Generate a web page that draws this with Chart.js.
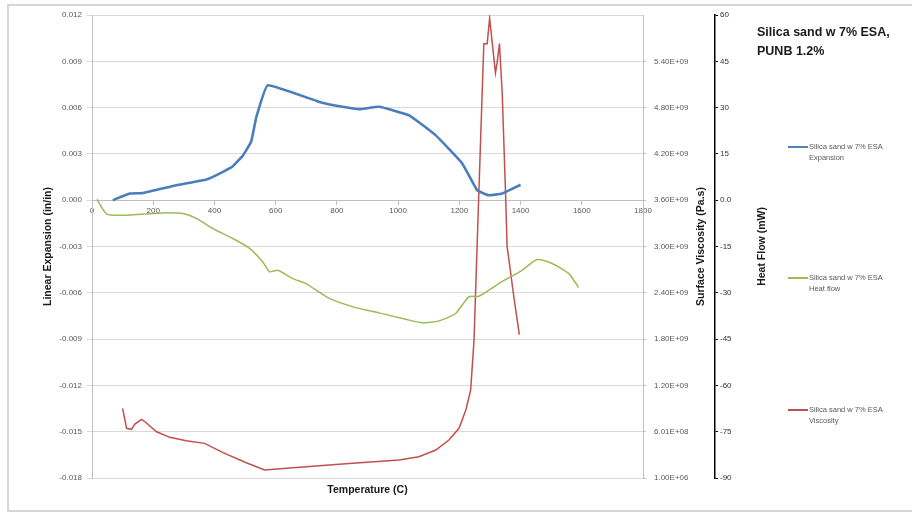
<!DOCTYPE html>
<html>
<head>
<meta charset="utf-8">
<script src="https://cdn.jsdelivr.net/npm/chart.js@4.4.1/dist/chart.umd.min.js"></script>
<style>
  html, body { margin: 0; padding: 0; background: #fff; }
  #wrap { position: relative; width: 912px; height: 513px; overflow: hidden; font-family: 'Liberation Sans', Arial, sans-serif; }
  #frame { position: absolute; left: 7px; top: 4px; width: 960px; height: 508px; border: 2px solid #d6d6d6; box-sizing: border-box; }
  canvas { position: absolute; left: 0; top: 0; }
  .title { position: absolute; left: 757px; top: 23px; font-weight: bold; font-size: 12.5px; line-height: 19px; color: #1a1a1a; }
  .leg { position: absolute; left: 788px; font-size: 7.5px; line-height: 11px; color: #595959; }
  .leg i { position: absolute; left: 0; top: 5px; width: 20px; height: 2px; }
  .leg span { display: block; margin-left: 21px; }
</style>
</head>
<body>
<div id="wrap">
  <div id="frame"></div>
  <canvas id="chart" width="912" height="513"></canvas>
  <div class="title">Silica sand w 7% ESA,<br>PUNB 1.2%</div>
  <div class="leg" style="top:141px"><i style="background:#4F81BD"></i><span>Silica sand w 7% ESA<br>Expansion</span></div>
  <div class="leg" style="top:272px"><i style="background:#9BBB59"></i><span>Silica sand w 7% ESA<br>Heat flow</span></div>
  <div class="leg" style="top:404px"><i style="background:#C0504D"></i><span>Silica sand w 7% ESA<br>Viscosity</span></div>
</div>
<script>
// ── Data ─────────────────────────────────────────────────────────────────
const expTemp = [68, 124, 167, 276, 374, 428, 460, 493, 520, 537, 574, 743, 819, 873, 938, 1036, 1123, 1209, 1258, 1296, 1340, 1400];
const expVal  = [0.0000, 0.00043, 0.00047, 0.00097, 0.00134, 0.00184, 0.0022, 0.0029, 0.0038, 0.0054, 0.00745,
                 0.00637, 0.00605, 0.0059, 0.00605, 0.0055, 0.0042, 0.0024, 0.00065, 0.00032, 0.00043, 0.001];

const heatTemp = [16, 48, 102, 200, 243, 297, 341, 395, 460, 515, 558, 580, 607, 656, 699, 775, 862, 938,
                  1025, 1079, 1134, 1188, 1231, 1264, 1329, 1405, 1454, 1503, 1557, 1590];
const heatVal  = [0.3, -4.5, -4.9, -4.3, -4.1, -4.3, -5.9, -9.2, -12.4, -15.6, -20, -23.2, -22.7, -25.4, -27,
                  -31.8, -34.8, -36.5, -38.6, -39.7, -39.1, -36.7, -31.3, -31.1, -27, -22.7, -19.2, -20.5, -23.7, -28.3];

const viscTemp = [100, 113, 129, 140, 162, 173, 211, 254, 308, 368, 428, 504, 564, 678, 840, 1003, 1068, 1123,
                  1166, 1199, 1221, 1237, 1248, 1264, 1280, 1291, 1299, 1307, 1318, 1323, 1331, 1340, 1351,
                  1356, 1362, 1378, 1396];
const viscVal  = [9.04e8, 6.45e8, 6.32e8, 7.0e8, 7.6e8, 7.3e8, 6.0e8, 5.28e8, 4.84e8, 4.5e8, 3.29e8, 1.99e8,
                  1.05e8, 1.4e8, 1.9e8, 2.34e8, 2.77e8, 3.64e8, 4.93e8, 6.45e8, 8.8e8, 1.14e9, 1.79e9, 3.73e9,
                  5.63e9, 5.63e9, 5.96e9, 5.66e9, 5.25e9, 5.37e9, 5.63e9, 4.99e9, 3.69e9, 3.0e9, 2.83e9,
                  2.35e9, 1.86e9];

const xTicks    = [0, 200, 400, 600, 800, 1000, 1200, 1400, 1600, 1800];
const expTicks  = [0.012, 0.009, 0.006, 0.003, 0, -0.003, -0.006, -0.009, -0.012, -0.015, -0.018];
const viscTicks = [1e6, 6.01e8, 1.201e9, 1.801e9, 2.401e9, 3.001e9, 3.601e9, 4.201e9, 4.801e9, 5.401e9];
const heatTicks = [60, 45, 30, 15, 0, -15, -30, -45, -60, -75, -90];

const toPoints = (xs, ys) => xs.map((x, i) => ({ x, y: ys[i] }));
const setTicks = list => scale => { scale.ticks = list.map(v => ({ value: v })); };

function sci(v) {
  const [m, e] = v.toExponential(2).split('e');
  const n = parseInt(e, 10);
  return m + 'E' + (n < 0 ? '-' : '+') + String(Math.abs(n)).padStart(2, '0');
}

Chart.defaults.font.family = "'Liberation Sans', Arial, sans-serif";
Chart.defaults.color = '#595959';

const tickFont = { size: 8 };

// draws the rotated axis titles (bottom-to-top, as in the reference) and the x title
const axisTitles = {
  id: 'axisTitles',
  afterDraw(chart) {
    const { ctx, chartArea, scales } = chart;
    const midY = (chartArea.top + chartArea.bottom) / 2;
    ctx.save();
    ctx.fillStyle = '#1a1a1a';
    ctx.font = "bold 10.5px 'Liberation Sans', Arial, sans-serif";
    ctx.textAlign = 'center';
    ctx.textBaseline = 'middle';
    const vert = (text, x) => {
      ctx.save();
      ctx.translate(x, midY);
      ctx.rotate(-Math.PI / 2);
      ctx.fillText(text, 0, 0);
      ctx.restore();
    };
    vert('Linear Expansion (in/in)', scales.y.left + 48);
    vert('Surface Viscosity (Pa.s)', scales.y2.left + 58);
    vert('Heat Flow (mW)', scales.y3.left + 47);
    ctx.fillText('Temperature (C)', (chartArea.left + chartArea.right) / 2, chartArea.bottom + 12);
    ctx.restore();
  }
};

new Chart(document.getElementById('chart'), {
  type: 'scatter',
  data: {
    datasets: [
      {
        label: 'Silica sand w 7% ESA Expansion',
        data: toPoints(expTemp, expVal),
        yAxisID: 'y',
        showLine: true,
        borderColor: '#4A7EBB',
        borderWidth: 2.6,
        pointRadius: 0,
        tension: 0.1
      },
      {
        label: 'Silica sand w 7% ESA Heat flow',
        data: toPoints(heatTemp, heatVal),
        yAxisID: 'y3',
        showLine: true,
        borderColor: '#9BBB59',
        borderWidth: 1.5,
        pointRadius: 0,
        tension: 0.2
      },
      {
        label: 'Silica sand w 7% ESA Viscosity',
        data: toPoints(viscTemp, viscVal),
        yAxisID: 'y2',
        showLine: true,
        borderColor: '#C0504D',
        borderWidth: 1.5,
        pointRadius: 0,
        tension: 0
      }
    ]
  },
  options: {
    responsive: false,
    animation: false,
    layout: { padding: { left: 0, top: 15, right: 132, bottom: 35 } },
    plugins: {
      legend: { display: false },
      tooltip: { enabled: false }
    },
    scales: {
      x: {
        type: 'linear',
        min: 0,
        max: 1800,
        position: { y: 0 },
        afterBuildTicks: setTicks(xTicks),
        grid: { drawOnChartArea: false, tickLength: 4, color: '#bfbfbf' },
        border: { color: '#bfbfbf' },
        ticks: { font: tickFont, maxRotation: 0, padding: 2, callback: v => String(v) }
      },
      y: {
        position: 'left',
        min: -0.018,
        max: 0.012,
        afterBuildTicks: setTicks(expTicks),
        afterFit: s => { s.width = 92; },
        grid: { color: '#d9d9d9', tickLength: 5 },
        border: { color: '#bfbfbf' },
        ticks: { font: tickFont, padding: 5, callback: v => v.toFixed(3) }
      },
      y2: {
        position: 'right',
        min: 1e6,
        max: 6.001e9,
        afterBuildTicks: setTicks(viscTicks),
        afterFit: s => { s.width = 72; },
        grid: { drawOnChartArea: false, tickLength: 3, color: '#bfbfbf' },
        border: { color: '#bfbfbf' },
        ticks: { font: tickFont, padding: 8, callback: v => sci(v) }
      },
      y3: {
        position: 'right',
        min: -90,
        max: 60,
        afterBuildTicks: setTicks(heatTicks),
        afterFit: s => { s.width = 65; },
        grid: { drawOnChartArea: false, tickLength: 3, color: '#000' },
        border: { color: '#000', width: 1.5 },
        ticks: { font: tickFont, padding: 2, color: '#333', callback: v => (v === 0 ? '0.0' : String(v)) }
      }
    }
  },
  plugins: [axisTitles]
});
</script>
</body>
</html>
